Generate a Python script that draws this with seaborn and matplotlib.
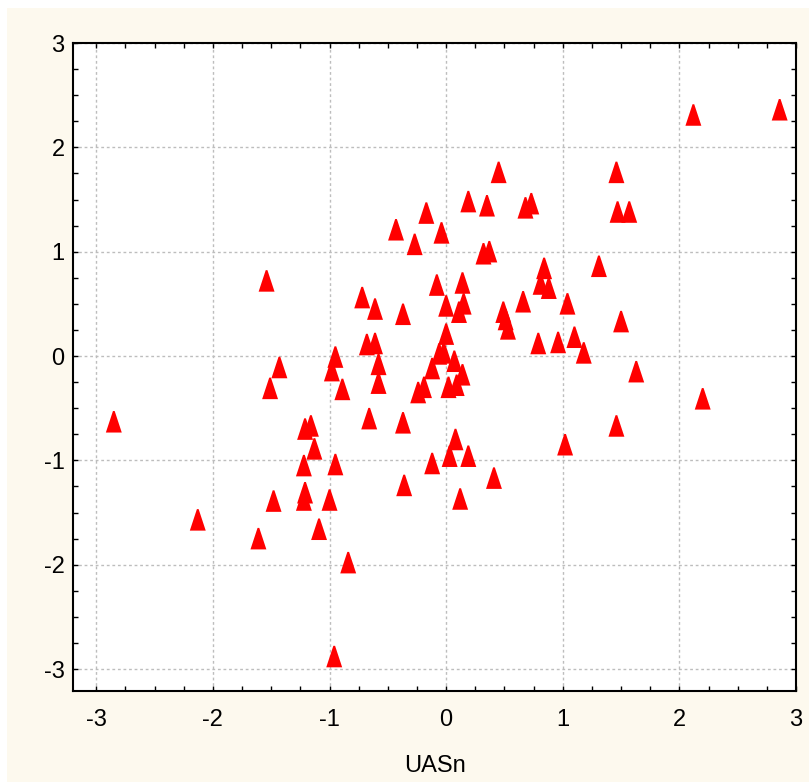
import matplotlib
matplotlib.use("Agg")
import matplotlib.pyplot as plt
import numpy as np
import pandas as pd
import seaborn as sns
from matplotlib.path import Path
from matplotlib.patches import Rectangle
from matplotlib.ticker import MultipleLocator

# Data
uasn = [-2.85, -2.13, -1.61, -1.54, -1.51, -1.48, -1.43, -1.21, -1.16, -1.22,
        -1.22, -1.21, -1.13, -1.09, -0.98, -0.95, -1.00, -0.95, -0.89, -0.84,
        -0.96, -0.72, -0.68, -0.66, -0.61, -0.61, -0.58, -0.58, -0.43, -0.37,
        -0.37, -0.36, -0.27, -0.24, -0.19, -0.17, -0.12, -0.12, -0.08, -0.06,
        -0.04, -0.02, 0.00, 0.00, 0.02, 0.03, 0.07, 0.08, 0.09, 0.11,
        0.12, 0.14, 0.15, 0.14, 0.19, 0.19, 0.32, 0.35, 0.37, 0.41,
        0.45, 0.49, 0.51, 0.53, 0.66, 0.68, 0.73, 0.79, 0.81, 0.84,
        0.88, 0.96, 1.02, 1.04, 1.10, 1.18, 1.31, 1.46, 1.47, 1.46,
        1.50, 1.57, 1.63, 2.12, 2.20, 2.86]
yvals = [-0.63, -1.57, -1.75, 0.72, -0.31, -1.39, -0.11, -0.70, -0.67, -1.05,
         -1.38, -1.31, -0.89, -1.66, -0.14, -0.01, -1.38, -1.04, -0.32, -1.98,
         -2.88, 0.56, 0.11, -0.60, 0.45, 0.12, -0.08, -0.26, 1.21, 0.40,
         -0.64, -1.24, 1.07, -0.35, -0.30, 1.37, -0.12, -1.03, 0.68, 0.02,
         1.18, 0.03, 0.48, 0.21, -0.30, -0.96, -0.05, -0.80, -0.28, 0.42,
         -1.37, 0.70, 0.50, -0.18, 1.48, -0.96, 0.98, 1.44, 1.00, -1.17,
         1.76, 0.42, 0.35, 0.26, 0.52, 1.42, 1.46, 0.12, 0.69, 0.84,
         0.65, 0.13, -0.85, 0.50, 0.18, 0.03, 0.86, 1.76, 1.38, -0.67,
         0.33, 1.38, -0.15, 2.31, -0.41, 2.36]

x_ticks = [-3, -2, -1, 0, 1, 2, 3]
y_ticks = [-3, -2, -1, 0, 1, 2, 3]
x_label = "UASn"

df = pd.DataFrame({"UASn": uasn, "Y": yvals})

sns.set_theme(style="white")
plt.rcParams['font.family'] = ['Liberation Sans', 'DejaVu Sans']

fig = plt.figure(figsize=(8.09, 7.82), dpi=100, facecolor="white")
fig.patches.append(Rectangle((7 / 809, 0), 1 - 7 / 809, 1 - 8 / 782,
                             transform=fig.transFigure, facecolor="#FDF9EE",
                             edgecolor="none", zorder=-10))
ax = fig.add_axes([73 / 809, 1 - 691 / 782, (796 - 73) / 809, (691 - 43) / 782])
ax.set_facecolor("white")

tri = Path([(-0.37, -0.5), (0.37, -0.5), (0.04, 0.5), (-0.04, 0.5), (-0.37, -0.5)],
           [Path.MOVETO, Path.LINETO, Path.LINETO, Path.LINETO, Path.CLOSEPOLY])

sns.scatterplot(data=df, x="UASn", y="Y", ax=ax, marker=tri, s=240,
                color="#FF0000", edgecolor="none", linewidth=0, zorder=3)

ax.set_xlim(-3.2, 3.0)
ax.set_ylim(-3.21, 3.0)
ax.set_xticks(x_ticks)
ax.set_yticks(y_ticks)
ax.set_xticklabels([str(t) for t in x_ticks])
ax.set_yticklabels([str(t) for t in y_ticks])
ax.xaxis.set_minor_locator(MultipleLocator(0.25))
ax.yaxis.set_minor_locator(MultipleLocator(0.25))

ax.grid(True, which="major", color="#BDBDBD", linestyle=(0, (2, 2)), linewidth=1.0)
ax.set_axisbelow(True)

ax.tick_params(which="both", direction="in", length=3.5, width=1.0, color="black",
               top=True, right=True, bottom=True, left=True)
ax.tick_params(axis="x", which="major", labelsize=17, pad=13, labelcolor="black")
ax.tick_params(axis="y", which="major", labelsize=17, pad=6, labelcolor="black")

for sp in ax.spines.values():
    sp.set_color("black")
    sp.set_linewidth(1.5)
    sp.set_visible(True)

ax.set_xlabel(x_label, fontsize=17, labelpad=17, color="black")
ax.set_ylabel("")

fig.savefig("out.png", dpi=100, facecolor=fig.get_facecolor())
